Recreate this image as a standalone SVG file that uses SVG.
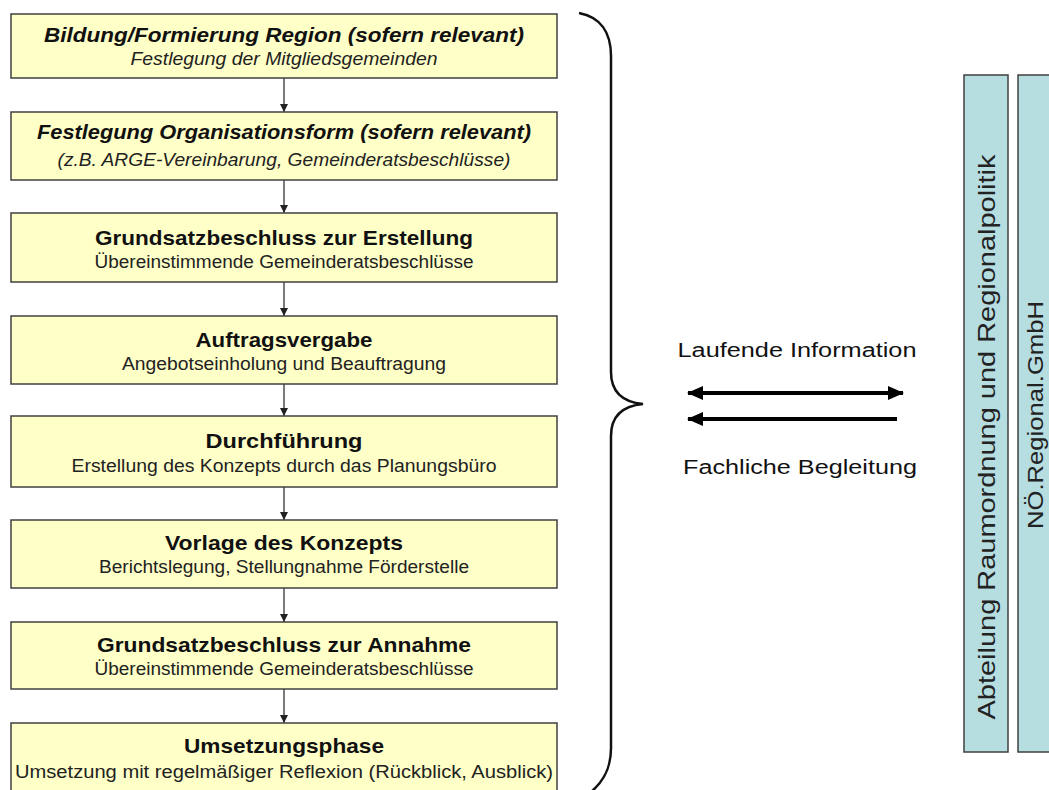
<svg xmlns="http://www.w3.org/2000/svg" width="1049" height="790" viewBox="0 0 1049 790">
<defs>
<style>
.box{fill:#ffffc8;stroke:#404040;stroke-width:1.5}
.col{fill:#b6dde0;stroke:#404040;stroke-width:1.5}
.t{font-family:"Liberation Sans",Arial,sans-serif;font-size:21px;font-weight:bold;fill:#111;text-anchor:middle}
.s{font-family:"Liberation Sans",Arial,sans-serif;font-size:17.5px;fill:#222;text-anchor:middle}
.i{font-style:italic}
.lbl{font-family:"Liberation Sans",Arial,sans-serif;font-size:20px;fill:#111;text-anchor:middle}
.v{font-family:"Liberation Sans",Arial,sans-serif;font-size:24px;fill:#222;text-anchor:middle}
.v2{font-family:"Liberation Sans",Arial,sans-serif;font-size:22px;fill:#222;text-anchor:middle}
.conn{stroke:#222;stroke-width:1.2;fill:none}
.big{stroke:#000;stroke-width:4;fill:none}
</style>
<marker id="ah" viewBox="0 0 8 8" refX="8" refY="4" markerWidth="8" markerHeight="8" markerUnits="userSpaceOnUse" orient="auto">
<path d="M0,0 L8,4 L0,8 z" fill="#222"/>
</marker>
<marker id="bh" viewBox="0 0 16 14" refX="15" refY="7" markerWidth="16" markerHeight="14" markerUnits="userSpaceOnUse" orient="auto-start-reverse">
<path d="M0,0 L16,7 L0,14 z" fill="#000"/>
</marker>
</defs>
<rect width="1049" height="790" fill="#fff"/>

<g id="connectors">
<line class="conn" x1="284" y1="78" x2="284" y2="112" marker-end="url(#ah)"/>
<line class="conn" x1="284" y1="180" x2="284" y2="213" marker-end="url(#ah)"/>
<line class="conn" x1="284" y1="282" x2="284" y2="316" marker-end="url(#ah)"/>
<line class="conn" x1="284" y1="384" x2="284" y2="416" marker-end="url(#ah)"/>
<line class="conn" x1="284" y1="487" x2="284" y2="520" marker-end="url(#ah)"/>
<line class="conn" x1="284" y1="588" x2="284" y2="622" marker-end="url(#ah)"/>
<line class="conn" x1="284" y1="689" x2="284" y2="723" marker-end="url(#ah)"/>
<line class="big" x1="688" y1="393" x2="903" y2="393" marker-start="url(#bh)" marker-end="url(#bh)"/>
<line class="big" x1="897" y1="419" x2="688" y2="419" marker-end="url(#bh)"/>
</g>

<g id="n1">
<rect class="box" x="11" y="14" width="546" height="64"/>
<text class="t i" x="284" y="42" textLength="480" lengthAdjust="spacingAndGlyphs">Bildung/Formierung Region (sofern relevant)</text>
<text class="s i" x="284" y="65" textLength="307" lengthAdjust="spacingAndGlyphs">Festlegung der Mitgliedsgemeinden</text>
</g>
<g id="n2">
<rect class="box" x="11" y="112" width="546" height="68"/>
<text class="t i" x="284" y="139" textLength="494" lengthAdjust="spacingAndGlyphs">Festlegung Organisationsform (sofern relevant)</text>
<text class="s i" x="284" y="166" textLength="453" lengthAdjust="spacingAndGlyphs">(z.B.  ARGE-Vereinbarung, Gemeinderatsbeschlüsse)</text>
</g>
<g id="n3">
<rect class="box" x="11" y="213" width="546" height="69"/>
<text class="t" x="284" y="245" textLength="378" lengthAdjust="spacingAndGlyphs">Grundsatzbeschluss zur Erstellung</text>
<text class="s" x="284" y="268" textLength="379" lengthAdjust="spacingAndGlyphs">Übereinstimmende  Gemeinderatsbeschlüsse</text>
</g>
<g id="n4">
<rect class="box" x="11" y="316" width="546" height="68"/>
<text class="t" x="284" y="347" textLength="177" lengthAdjust="spacingAndGlyphs">Auftragsvergabe</text>
<text class="s" x="284" y="370" textLength="324" lengthAdjust="spacingAndGlyphs">Angebotseinholung  und  Beauftragung</text>
</g>
<g id="n5">
<rect class="box" x="11" y="416" width="546" height="71"/>
<text class="t" x="284" y="448" textLength="157" lengthAdjust="spacingAndGlyphs">Durchführung</text>
<text class="s" x="284" y="472" textLength="425" lengthAdjust="spacingAndGlyphs">Erstellung  des Konzepts  durch  das Planungsbüro</text>
</g>
<g id="n6">
<rect class="box" x="11" y="520" width="546" height="68"/>
<text class="t" x="284" y="550" textLength="238" lengthAdjust="spacingAndGlyphs">Vorlage des Konzepts</text>
<text class="s" x="284" y="573" textLength="370" lengthAdjust="spacingAndGlyphs">Berichtslegung,  Stellungnahme  Förderstelle</text>
</g>
<g id="n7">
<rect class="box" x="11" y="622" width="546" height="67"/>
<text class="t" x="284" y="652" textLength="374" lengthAdjust="spacingAndGlyphs">Grundsatzbeschluss zur Annahme</text>
<text class="s" x="284" y="675" textLength="379" lengthAdjust="spacingAndGlyphs">Übereinstimmende  Gemeinderatsbeschlüsse</text>
</g>
<g id="n8">
<rect class="box" x="11" y="723" width="546" height="70"/>
<text class="t" x="284" y="753" textLength="200" lengthAdjust="spacingAndGlyphs">Umsetzungsphase</text>
<text class="s" x="284" y="778" textLength="538" lengthAdjust="spacingAndGlyphs">Umsetzung  mit  regelmäßiger  Reflexion  (Rückblick,  Ausblick)</text>
</g>

<g id="brace">
<path d="M579,13 C600,17 611,32 611,56 L611,372 C611,392 622,402 643,404 C622,406 611,416 611,436 L611,748 C611,768 604,781 591,792" fill="none" stroke="#111" stroke-width="2.5"/>
</g>

<g id="labels">
<text class="lbl" x="797" y="357" textLength="239" lengthAdjust="spacingAndGlyphs">Laufende  Information</text>
<text class="lbl" x="800" y="474" textLength="234" lengthAdjust="spacingAndGlyphs">Fachliche  Begleitung</text>
</g>

<g id="col1">
<rect class="col" x="964" y="75" width="44" height="677"/>
<text class="v" transform="translate(995,437) rotate(-90)" x="0" y="0" textLength="565" lengthAdjust="spacingAndGlyphs">Abteilung  Raumordnung  und  Regionalpolitik</text>
</g>
<g id="col2">
<rect class="col" x="1018" y="75" width="44" height="677"/>
<text class="v2" transform="translate(1043,415) rotate(-90)" x="0" y="0" textLength="228" lengthAdjust="spacingAndGlyphs">NÖ.Regional.GmbH</text>
</g>
</svg>
